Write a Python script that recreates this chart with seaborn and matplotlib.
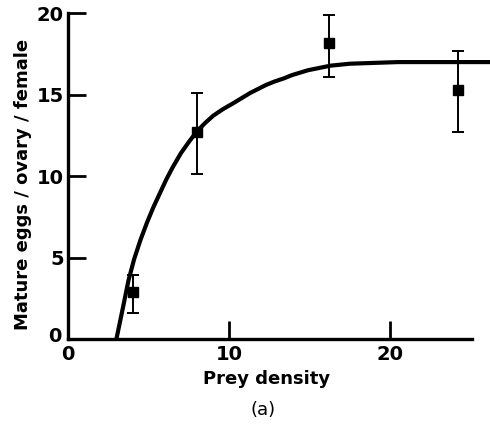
import matplotlib
matplotlib.use("Agg")
import matplotlib.pyplot as plt
import seaborn as sns
import pandas as pd
from matplotlib.transforms import ScaledTranslation

# observed means with error bars
prey = [4.0, 8.0, 16.2, 24.2]
eggs = [2.9, 12.7, 18.2, 15.3]
err_low = [1.6, 10.1, 16.1, 12.7]
err_high = [3.9, 15.1, 19.9, 17.7]

# fitted curve
curve_x = [3.0, 3.4, 3.75, 4.1, 4.5, 4.9, 5.3, 5.7, 6.1, 6.5, 7.0, 7.5, 8.0, 8.5, 9.0,
           9.6, 10.3, 10.8, 11.3, 11.8, 12.3, 12.8, 13.4, 13.9, 14.4, 14.9, 15.4,
           16.3, 17.5, 19.0, 20.5, 23.0, 26.2]
curve_y = [0.0, 1.9, 3.6, 4.9, 6.1, 7.15, 8.1, 8.95, 9.8, 10.55, 11.4, 12.1, 12.75,
           13.25, 13.7, 14.1, 14.5, 14.8, 15.1, 15.35, 15.6, 15.8, 16.0, 16.2, 16.35,
           16.5, 16.6, 16.78, 16.9, 16.95, 17.0, 17.0, 17.0]

df = pd.DataFrame({"prey": prey, "eggs": eggs})
curve = pd.DataFrame({"x": curve_x, "y": curve_y})

sns.set_style("ticks")
plt.rcParams["font.family"] = ["DejaVu Sans"]
for key in ["text.color", "axes.labelcolor", "xtick.color", "ytick.color", "axes.edgecolor"]:
    plt.rcParams[key] = "black"

fig = plt.figure(figsize=(4.9, 4.29), dpi=100)
ax = fig.add_axes([0.139, 0.2098, 0.861, 0.767])

sns.lineplot(data=curve, x="x", y="y", sort=False, color="black", lw=3.0, ax=ax)

yerr = [[e - lo for e, lo in zip(eggs, err_low)], [hi - e for e, hi in zip(eggs, err_high)]]
ax.errorbar(df["prey"], df["eggs"], yerr=yerr, fmt="s", color="black", ms=7,
            elinewidth=1.4, capsize=4, capthick=1.4, zorder=3)

ax.set_xlim(0, 26.2)
ax.set_ylim(0, 20.2)
ax.set_xticks([0, 10, 20])
ax.set_yticks([0, 5, 10, 15, 20])
ax.tick_params(direction="in", length=13, width=2, labelsize=14)
ax.tick_params(axis="x", pad=4)
ax.tick_params(axis="y", pad=3)
for lab in ax.get_xticklabels() + ax.get_yticklabels():
    lab.set_fontweight("bold")
# lift the y "0" a little so it sits above the x "0", as in the original
ylab0 = ax.get_yticklabels()[0]
ylab0.set_transform(ylab0.get_transform() + ScaledTranslation(-2 / 72, 3 / 72, fig.dpi_scale_trans))

sns.despine(ax=ax)
ax.spines["left"].set_linewidth(2.4)
ax.spines["bottom"].set_linewidth(2.4)
ax.spines["left"].set_bounds(0, 20)
ax.spines["bottom"].set_bounds(0, 25.1)

ax.set_xlabel("Prey density", fontsize=13, fontweight="bold")
ax.set_ylabel("Mature eggs / ovary / female", fontsize=13, fontweight="bold")
ax.xaxis.set_label_coords(0.47, -0.095)
ax.yaxis.set_label_coords(-0.085, 0.47)

fig.text(0.537, 0.045, "(a)", ha="center", va="center", fontsize=13)

fig.savefig("out.png", dpi=100)
